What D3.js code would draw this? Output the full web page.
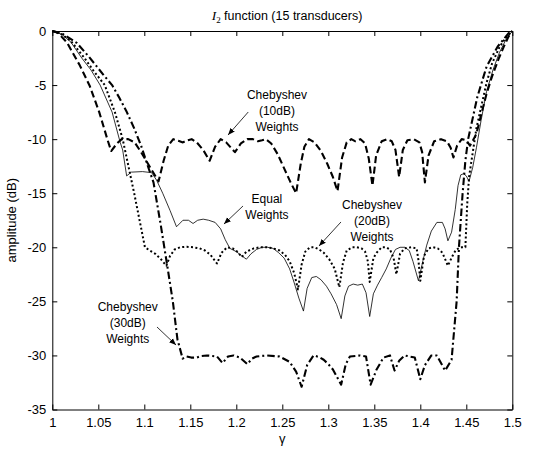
<!DOCTYPE html>
<html>
<head>
<meta charset="utf-8">
<script src="https://cdn.jsdelivr.net/npm/d3@7"></script>
<style>
  body { margin: 0; background: #fff; }
  svg text { font-family: "Liberation Sans", Arial, sans-serif; fill: #000; }
</style>
</head>
<body>
<div id="vis"></div>
<script>
// axis ticks
const xTicks = [1, 1.05, 1.1, 1.15, 1.2, 1.25, 1.3, 1.35, 1.4, 1.45, 1.5];
const xTickLabels = ["1", "1.05", "1.1", "1.15", "1.2", "1.25", "1.3", "1.35", "1.4", "1.45", "1.5"];
const yTicks = [0, -5, -10, -15, -20, -25, -30, -35];

// [gamma, amplitude dB]
const cheb10 = [[1.000,0],[1.006,-0.15],[1.016,-1.07],[1.030,-3.2],[1.0406,-5.06],[1.051,-7.5],[1.0598,-10],[1.064,-11.1],
  [1.0703,-10.4],[1.0755,-10],[1.0825,-10],[1.0895,-10.3],[1.0965,-11.2],[1.107,-12.7],[1.1155,-13.9],[1.121,-12.0],
  [1.126,-10.6],[1.1315,-10.0],[1.137,-10.15],[1.142,-10.3],[1.147,-10.1],[1.1515,-10.0],[1.157,-10.3],[1.164,-11.0],
  [1.171,-12.0],[1.177,-10.7],[1.183,-10.0],[1.189,-10.3],[1.1985,-11.2],[1.205,-10.4],[1.212,-10.0],[1.218,-10.0],
  [1.2235,-10.2],[1.228,-10.1],[1.232,-10.0],[1.238,-10.4],[1.245,-11.4],[1.252,-12.7],[1.259,-14.0],[1.265,-15.0],
  [1.27,-12.3],[1.274,-10.7],[1.279,-10.0],[1.285,-10.3],[1.292,-11.1],[1.299,-12.3],[1.305,-13.5],[1.31,-14.8],
  [1.315,-11.7],[1.32,-10.3],[1.325,-10.0],[1.3295,-10.2],[1.335,-10.0],[1.34,-10.4],[1.344,-11.8],[1.348,-14.3],
  [1.352,-11.5],[1.358,-10.2],[1.364,-10.0],[1.369,-10.2],[1.373,-11.0],[1.377,-13.5],[1.381,-11.0],[1.386,-10.1],
  [1.393,-10.0],[1.399,-10.3],[1.402,-11.2],[1.405,-14.0],[1.409,-11.5],[1.415,-10.2],[1.4225,-10.0],[1.429,-10.2],
  [1.433,-10.8],[1.436,-11.7],[1.44,-10.6],[1.445,-10.0],[1.45,-10.1],[1.454,-10.6],[1.458,-10.0],[1.461,-9.5],
  [1.466,-7.8],[1.472,-5.8],[1.478,-4.2],[1.485,-2.6],[1.491,-1.4],[1.496,-0.5],[1.5,0]];

const equalW = [[1.000,0],[1.01,-0.3],[1.02,-1.0],[1.032,-2.5],[1.042,-3.6],[1.052,-5.0],[1.065,-7.5],[1.0738,-10.3],
  [1.0765,-11.0],[1.0808,-13.4],[1.086,-13.05],[1.098,-13.0],[1.108,-13.1],[1.1134,-13.8],[1.12,-15.0],[1.128,-16.6],
  [1.135,-18.1],[1.142,-17.5],[1.148,-17.5],[1.153,-17.8],[1.158,-17.5],[1.164,-17.4],[1.17,-17.5],[1.177,-17.7],
  [1.183,-18.3],[1.188,-19.3],[1.193,-20.1],[1.2,-20.4],[1.206,-20.8],[1.211,-21.1],[1.216,-20.6],[1.222,-20.2],
  [1.228,-20.0],[1.234,-20.0],[1.24,-20.1],[1.246,-20.5],[1.252,-21.0],[1.258,-22.0],[1.263,-23.3],[1.268,-24.7],
  [1.273,-25.9],[1.277,-23.8],[1.282,-22.8],[1.287,-22.7],[1.292,-23.0],[1.298,-23.6],[1.303,-24.3],[1.309,-25.3],
  [1.314,-26.6],[1.318,-24.5],[1.322,-23.6],[1.327,-23.4],[1.332,-23.5],[1.337,-23.4],[1.341,-24.2],[1.345,-26.4],
  [1.349,-24.3],[1.3535,-23.5],[1.358,-22.8],[1.363,-22.0],[1.368,-21.0],[1.373,-20.2],[1.378,-20.0],[1.383,-20.0],
  [1.388,-20.3],[1.392,-21.3],[1.398,-23.1],[1.403,-21.2],[1.407,-19.8],[1.412,-18.5],[1.418,-17.7],[1.424,-17.7],
  [1.427,-18.3],[1.43,-19.4],[1.434,-18.6],[1.438,-16.5],[1.441,-14.3],[1.444,-13.3],[1.447,-13.2],[1.45,-13.4],
  [1.453,-13.9],[1.457,-12.6],[1.461,-10.8],[1.466,-8.3],[1.472,-5.6],[1.479,-3.6],[1.486,-2.0],[1.493,-0.8],[1.5,0]];

const cheb20 = [[1.000,0],[1.01,-0.3],[1.02,-0.9],[1.035,-2.5],[1.045,-3.7],[1.057,-5.0],[1.068,-7.5],[1.0765,-10.0],
  [1.089,-15.0],[1.1007,-20.0],[1.106,-20.3],[1.112,-20.6],[1.118,-21.1],[1.124,-21.7],[1.128,-20.8],[1.133,-20.2],
  [1.139,-20.0],[1.146,-19.95],[1.153,-20.0],[1.16,-20.1],[1.166,-20.3],[1.172,-20.7],[1.179,-21.5],[1.184,-20.5],
  [1.19,-20.0],[1.196,-20.1],[1.201,-20.4],[1.206,-20.9],[1.211,-20.4],[1.219,-20.1],[1.226,-20.0],[1.233,-20.0],
  [1.24,-20.1],[1.247,-20.3],[1.253,-20.7],[1.258,-21.3],[1.263,-22.4],[1.267,-23.9],[1.271,-21.6],[1.275,-20.4],
  [1.28,-20.0],[1.285,-20.0],[1.29,-20.2],[1.295,-20.5],[1.301,-21.1],[1.307,-22.0],[1.312,-23.7],[1.316,-21.4],
  [1.32,-20.3],[1.326,-20.0],[1.331,-20.0],[1.336,-20.1],[1.34,-20.4],[1.343,-21.3],[1.345,-23.2],[1.349,-21.0],
  [1.3525,-20.5],[1.358,-20.0],[1.363,-20.0],[1.367,-20.2],[1.371,-21.0],[1.374,-22.5],[1.378,-20.6],[1.383,-20.1],
  [1.39,-20.0],[1.396,-20.1],[1.398,-21.2],[1.4,-23.1],[1.404,-20.8],[1.409,-20.1],[1.414,-20.0],[1.419,-20.1],
  [1.424,-20.5],[1.43,-21.7],[1.435,-20.8],[1.439,-20.2],[1.445,-20.0],[1.449,-20.0],[1.451,-16.0],
  [1.453,-13.5],[1.456,-11.8],[1.461,-9.0],[1.467,-6.7],[1.472,-4.8],[1.478,-3.0],[1.486,-1.5],[1.493,-0.6],[1.5,0]];

const cheb30 = [[1.000,0],[1.01,-0.2],[1.0266,-1.1],[1.039,-2.3],[1.0476,-3.2],[1.056,-4.1],[1.065,-5.0],[1.073,-6.2],
  [1.081,-7.5],[1.089,-9.0],[1.0965,-10.6],[1.1035,-12.4],[1.11,-14.0],[1.118,-18.0],[1.1255,-22.0],[1.131,-25.0],
  [1.136,-28.5],[1.1417,-30.3],[1.146,-30.1],[1.151,-30.2],[1.157,-30.2],[1.162,-30.05],[1.168,-30.0],[1.174,-30.05],
  [1.179,-30.1],[1.185,-30.7],[1.191,-30.1],[1.197,-30.0],[1.204,-30.2],[1.212,-30.8],[1.217,-30.3],[1.222,-30.1],
  [1.233,-30.0],[1.247,-30.1],[1.258,-30.6],[1.265,-31.5],[1.271,-32.9],[1.277,-30.9],[1.284,-30.0],[1.29,-30.15],
  [1.295,-30.4],[1.3,-30.8],[1.305,-31.3],[1.314,-32.7],[1.319,-30.8],[1.3235,-30.1],[1.3345,-30.0],[1.341,-30.1],
  [1.346,-32.7],[1.3525,-31.3],[1.36,-30.2],[1.367,-30.0],[1.372,-31.4],[1.377,-30.5],[1.383,-30.0],[1.394,-30.2],
  [1.4,-32.2],[1.405,-30.9],[1.412,-30.0],[1.418,-30.0],[1.427,-31.4],[1.434,-30.4],[1.4395,-25.0],[1.442,-20.0],
  [1.446,-15.0],[1.449,-12.0],[1.452,-10.0],[1.462,-6.1],[1.472,-3.3],[1.484,-1.45],[1.496,-0.2],[1.5,0]];

// annotation text lines, text anchor, arrow tail and head (gamma, dB)
const noteLines = [
  [["Chebyshev", "(10dB)", "Weights"], [1.2442, -5.92], [1.213, -7.49], [1.191, -9.62]],
  [["Equal", "Weights"], [1.2333, -15.54], [1.2073, -16.18], [1.1866, -17.85]],
  [["Chebyshev", "(20dB)", "Weights"], [1.3475, -16.09], [1.3138, -17.66], [1.2899, -19.88]],
  [["Chebyshev", "(30dB)", "Weights"], [1.082, -25.52], [1.1138, -27.37], [1.1345, -29.04]]
];

const W = 548, H = 452;
const margin = {top: 31, right: 35.7, bottom: 42.5, left: 52.3};

const svg = d3.select("#vis").append("svg")
  .attr("width", W)
  .attr("height", H);

const x = d3.scaleLinear().domain([1, 1.5]).range([margin.left, W - margin.right]);
const y = d3.scaleLinear().domain([-35, 0]).range([H - margin.bottom, margin.top]);

// arrow head
svg.append("defs").append("marker")
  .attr("id", "head")
  .attr("viewBox", "0 0 10 10")
  .attr("refX", 10).attr("refY", 5)
  .attr("markerWidth", 7).attr("markerHeight", 7)
  .attr("markerUnits", "userSpaceOnUse")
  .attr("orient", "auto")
  .append("path")
  .attr("d", "M0,1 L10,5 L0,9 z")
  .attr("fill", "#000");

// axes: ticks point inward on all four sides
const tickLen = 5;
svg.append("g")
  .attr("transform", `translate(0,${y(-35)})`)
  .call(d3.axisBottom(x).tickValues(xTicks).tickFormat((d, i) => xTickLabels[i])
    .tickSizeInner(-tickLen).tickSizeOuter(0).tickPadding(8));
svg.append("g")
  .attr("transform", `translate(0,${y(0)})`)
  .call(d3.axisTop(x).tickValues(xTicks).tickFormat("").tickSizeInner(-tickLen).tickSizeOuter(0));
svg.append("g")
  .attr("transform", `translate(${x(1)},0)`)
  .call(d3.axisLeft(y).tickValues(yTicks).tickFormat(d => d)
    .tickSizeInner(-tickLen).tickSizeOuter(0).tickPadding(6));
svg.append("g")
  .attr("transform", `translate(${x(1.5)},0)`)
  .call(d3.axisRight(y).tickValues(yTicks).tickFormat("").tickSizeInner(-tickLen).tickSizeOuter(0));

svg.selectAll(".tick text").style("font-size", "13px");
svg.selectAll(".domain").attr("stroke", "#000").attr("stroke-width", 1);

// curves
const line = d3.line().x(d => x(d[0])).y(d => y(d[1]));

const series = [
  {data: equalW, width: 0.8, dash: null},
  {data: cheb20, width: 2, dash: "2,2.4"},
  {data: cheb30, width: 2.1, dash: "7.5,3,2,3"},
  {data: cheb10, width: 2.1, dash: "7,3.5"}
];

svg.append("g").selectAll("path")
  .data(series)
  .enter()
  .append("path")
  .attr("d", d => line(d.data))
  .attr("fill", "none")
  .attr("stroke", "#000")
  .attr("stroke-width", d => d.width)
  .attr("stroke-dasharray", d => d.dash)
  .attr("stroke-linejoin", "round");

// annotations
const notes = svg.append("g");
noteLines.forEach(n => {
  const [lines, at, tail, head] = n;
  lines.forEach((t, i) => {
    notes.append("text")
      .attr("x", x(at[0]))
      .attr("y", y(at[1]) + i * 16)
      .attr("dy", "0.35em")
      .attr("text-anchor", "middle")
      .style("font-size", "12px")
      .text(t);
  });
  notes.append("line")
    .attr("x1", x(tail[0])).attr("y1", y(tail[1]))
    .attr("x2", x(head[0])).attr("y2", y(head[1]))
    .attr("stroke", "#000")
    .attr("stroke-width", 0.8)
    .attr("marker-end", "url(#head)");
});

// title and axis labels
const title = svg.append("text")
  .attr("x", 287)
  .attr("y", 20)
  .attr("text-anchor", "middle")
  .style("font-size", "12.5px");
title.append("tspan")
  .style("font-family", "'Liberation Serif', 'Times New Roman', serif")
  .style("font-style", "italic")
  .style("font-size", "13.5px")
  .text("I");
title.append("tspan")
  .attr("dy", 3)
  .style("font-family", "'Liberation Serif', 'Times New Roman', serif")
  .style("font-size", "9px")
  .text("2");
title.append("tspan")
  .attr("dy", -3)
  .text(" function (15 transducers)");

svg.append("text")
  .attr("transform", `translate(16,${(y(0) + y(-35)) / 2}) rotate(-90)`)
  .attr("text-anchor", "middle")
  .style("font-size", "13px")
  .text("amplitude (dB)");

svg.append("text")
  .attr("x", x(1.25))
  .attr("y", 443)
  .attr("text-anchor", "middle")
  .style("font-size", "13px")
  .text("γ");
</script>
</body>
</html>
